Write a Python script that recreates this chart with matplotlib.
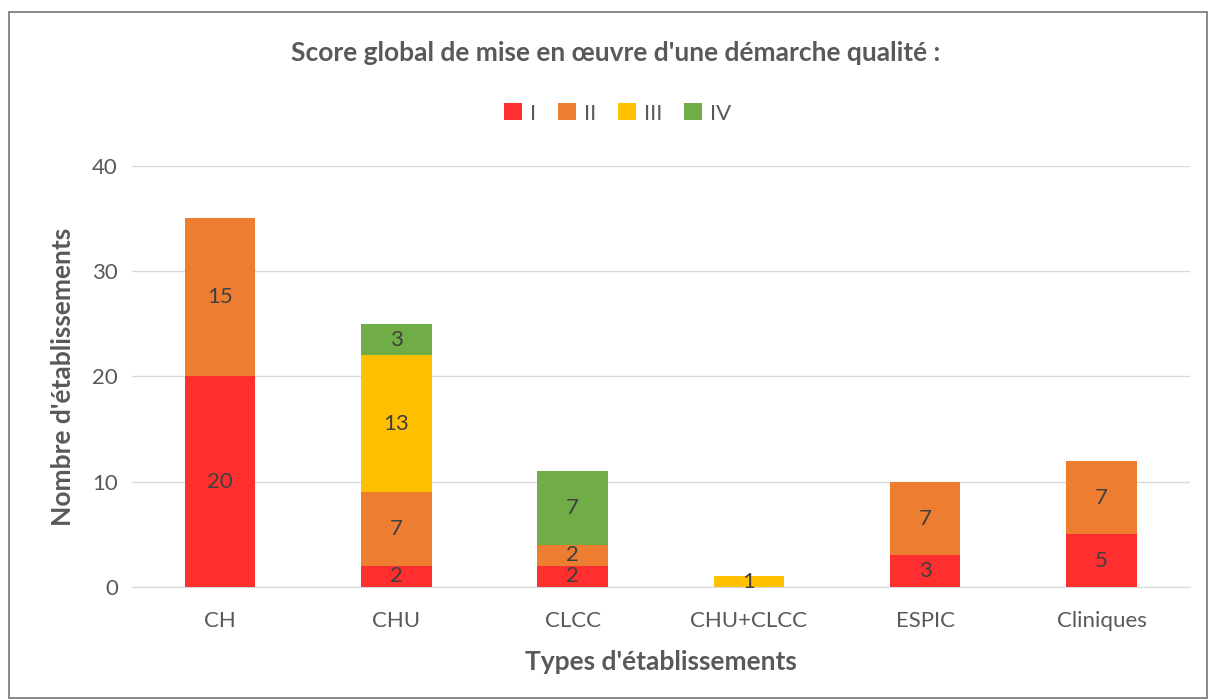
import numpy as np
import matplotlib.pyplot as plt
from matplotlib.patches import Rectangle

plt.rcParams['font.family'] = ['Lato', 'DejaVu Sans']

categories = ['CH', 'CHU', 'CLCC', 'CHU+CLCC', 'ESPIC', 'Cliniques']
series_names = ['I', 'II', 'III', 'IV']
s1 = [20, 2, 2, 0, 3, 5]
s2 = [15, 7, 2, 0, 7, 7]
s3 = [0, 13, 0, 1, 0, 0]
s4 = [0, 3, 7, 0, 0, 0]
colors = ['#FF2F2F', '#ED7D31', '#FFC000', '#70AD47']

fig = plt.figure(figsize=(12.09, 7.0), dpi=100)
ax = fig.add_axes([0.109, 0.1614, 0.875, 0.6017])

x = np.arange(len(categories))
bottom = np.zeros(len(categories))
for name, vals, c in zip(series_names, [s1, s2, s3, s4], colors):
    vals = np.array(vals)
    ax.bar(x, vals, 0.4, bottom=bottom, color=c, label=name, zorder=3)
    for xi, b, v in zip(x, bottom, vals):
        if v > 0:
            ax.text(xi, b + v / 2, str(v), ha='center', va='center',
                    fontsize=16, color='#404040', zorder=4)
    bottom += vals

ax.set_xlim(-0.5, len(categories) - 0.5)
ax.set_ylim(0, 40)
ax.set_yticks([0, 10, 20, 30, 40])
ax.set_xticks(x)
ax.set_xticklabels(categories)
ax.yaxis.grid(True, color='#D9D9D9', linewidth=1, zorder=0)
for s in ['top', 'right', 'left']:
    ax.spines[s].set_visible(False)
ax.spines['bottom'].set_color('#D9D9D9')
ax.tick_params(axis='both', length=0, labelsize=16, colors='#595959', pad=10)
ax.tick_params(axis='x', pad=17)

ax.set_xlabel("Types d'établissements", fontsize=19, fontweight='bold',
              color='#595959', labelpad=14)
ax.set_ylabel("Nombre d'établissements", fontsize=19, fontweight='bold',
              color='#595959', labelpad=12)

fig.text(0.509, 0.924, "Score global de mise en œuvre d'une démarche qualité :",
         ha='center', va='center', fontsize=19, fontweight='bold', color='#595959')

leg = fig.legend(loc='center', bbox_to_anchor=(0.511, 0.838), ncol=4, frameon=False,
                 fontsize=16, handlelength=0.8, handleheight=0.8, handletextpad=0.35,
                 columnspacing=1.0)
for t in leg.get_texts():
    t.set_color('#595959')

fig.patches.append(Rectangle((0.0075, 0.003), 0.991, 0.98, transform=fig.transFigure,
                             fill=False, edgecolor='#7F7F7F', linewidth=1.3))

fig.savefig('out.png', dpi=100)
